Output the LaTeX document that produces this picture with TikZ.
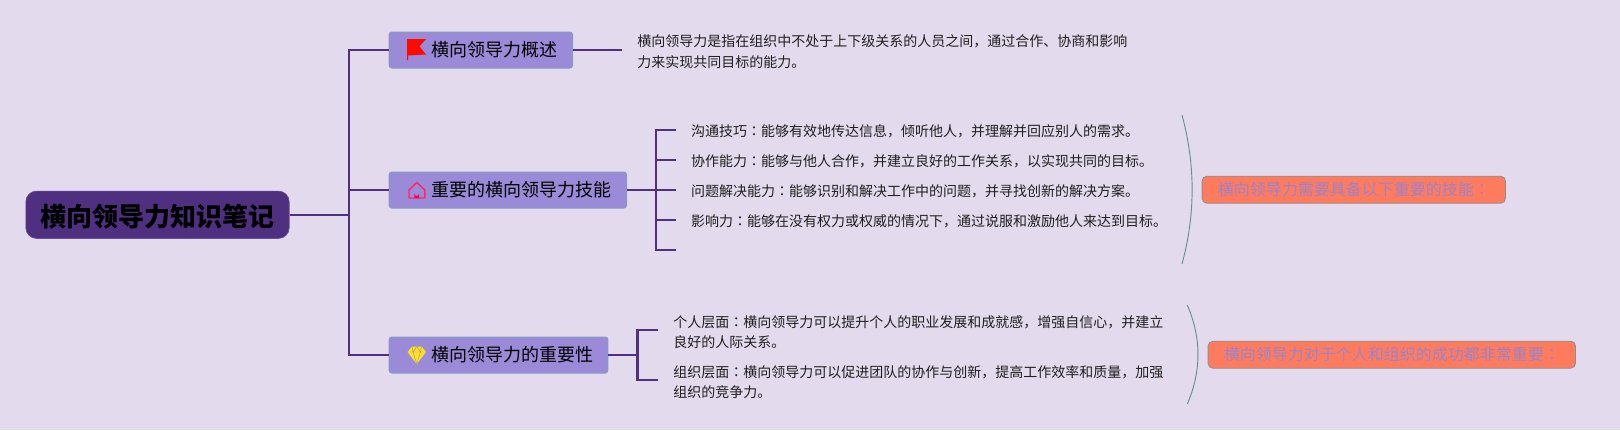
\documentclass[tikz,border=0pt]{standalone}
\usepackage{fontspec}
\setmainfont{Noto Sans CJK SC}
\newfontfamily\jpcolon{Noto Sans CJK JP}
\newcommand{\cln}{{\jpcolon ：}}
\definecolor{bgc}{HTML}{E3DAEE}
\definecolor{rootc}{HTML}{4F2F80}
\definecolor{linec}{HTML}{4F3082}
\definecolor{childc}{HTML}{9B8AD8}
\definecolor{childb}{HTML}{879CC0}
\definecolor{sumc}{HTML}{FF7B5E}
\definecolor{sumb}{HTML}{8E8F86}
\definecolor{sumt}{HTML}{9A82CC}
\definecolor{arcc}{HTML}{5F9296}
\tikzset{
  x=0.75pt,y=-0.75pt,
  conn/.style={draw=linec,line width=1.6pt},
  rootbox/.style={anchor=west,fill=rootc,draw=rootc!85!white,line width=0.5pt,rounded corners=8pt,inner sep=0pt,minimum width=197.5pt,minimum height=35.5pt,font=\fontsize{19.5pt}{24pt}\bfseries},
  childbox/.style={anchor=west,fill=childc,draw=childb,line width=0.75pt,rounded corners=2pt,inner sep=0pt,minimum height=27pt,align=left,font=\fontsize{13.5pt}{16pt}\selectfont},
  sumbox/.style={anchor=west,fill=sumc,draw=sumb,line width=0.6pt,rounded corners=3.5pt,inner sep=0pt,minimum height=20.2pt,text=sumt,font=\fontsize{12pt}{15pt}\selectfont},
  note/.style={anchor=west,inner sep=0pt,align=left,text=black!88,font=\fontsize{10.5pt}{15.3pt}\selectfont},
  brace/.style={draw=arcc,line width=0.7pt}
}
\begin{document}
\begin{tikzpicture}
\useasboundingbox[fill=bgc] (0,0) rectangle (1620,430);

\node[rootbox] (root) at (25.5,214.75) {\raisebox{-9pt}[0pt][0pt]{横向领导力知识笔记}};

\node[childbox,text width=137.5pt] (c1) at (388.7,50) {\hspace*{32pt}\raisebox{-5.2pt}[0pt][0pt]{横向领导力概述}};
\node[childbox,text width=178pt] (c2) at (388.7,190) {\hspace*{32pt}\raisebox{-5.2pt}[0pt][0pt]{重要的横向领导力技能}};
\node[childbox,text width=164pt] (c3) at (388.7,355) {\hspace*{32pt}\raisebox{-5.2pt}[0pt][0pt]{横向领导力的重要性}};

\coordinate (t0) at (349,214.75);
\draw[conn] (root.east) -- (t0);
\draw[conn] (c1.west) -- (c1.west -| t0) -- (c3.west -| t0) -- (c3.west);
\draw[conn] (c2.west) -- (c2.west -| t0);

% flag
\fill[red!92!orange] (407,39) -- (426,39) -- (419.5,46.5) -- (426,54.5) -- (408,55.5) -- (408,60) -- (407,60) -- cycle;
% house
\draw[draw=red!70!magenta!85!white,line width=1.1pt,line join=round] (409,198) -- (409,190) -- (416.8,182.5) -- (424.8,190) -- (424.8,198) -- cycle;
\fill[red!70!magenta] (414.4,198) -- (414.4,193.5) arc (180:0:2.4) -- (419.2,198) -- cycle;
% diamond
\fill[yellow!75!orange!80!white] (412,346.5) -- (421.5,346.5) -- (426,352) -- (416.8,364) -- (407.5,352) -- cycle;
\draw[draw=olive!70!white,line width=0.35pt] (407.5,352) -- (426,352) (412,346.5) -- (413,352) -- (416.8,364) -- (420.5,352) -- (421.5,346.5) (416.8,346.5) -- (413,352) (416.8,346.5) -- (420.5,352);

% overview
\coordinate (e1) at (621.7,50);
\draw[conn] (c1.east) -- (e1);
\node[note] (n1) at (637,51.7) {横向领导力是指在组织中不处于上下级关系的人员之间，通过合作、协商和影响\\力来实现共同目标的能力。};

% skills
\coordinate (bus2) at (656,190);
\coordinate (s1) at (675.8,130);
\coordinate (s2) at (675.8,160);
\coordinate (s3) at (675.8,190);
\coordinate (s4) at (675.8,220);
\coordinate (s5) at (675.8,250);
\draw[conn] (c2.east) -- (s3);
\draw[conn] (s1) -- (s1 -| bus2) -- (s5 -| bus2) -- (s5);
\draw[conn] (s2) -- (s2 -| bus2);
\draw[conn] (s4) -- (s4 -| bus2);
\node[note] (k1) at (690.8,131.5) {沟通技巧\cln 能够有效地传达信息，倾听他人，并理解并回应别人的需求。};
\node[note] (k2) at (690.8,161.5) {协作能力\cln 能够与他人合作，并建立良好的工作关系，以实现共同的目标。};
\node[note] (k3) at (690.8,191.5) {问题解决能力\cln 能够识别和解决工作中的问题，并寻找创新的解决方案。};
\node[note] (k4) at (690.8,221.5) {影响力\cln 能够在没有权力或权威的情况下，通过说服和激励他人来达到目标。};

% importance
\coordinate (bus3) at (637.5,355);
\coordinate (i1) at (658,330);
\coordinate (i2) at (658,380);
\draw[conn] (c3.east) -- (bus3);
\draw[conn] (i1) -- (i1 -| bus3) -- (i2 -| bus3) -- (i2);
\node[note] (m1) at (673,332) {个人层面\cln 横向领导力可以提升个人的职业发展和成就感，增强自信心，并建立\\良好的人际关系。};
\node[note] (m2) at (673,382) {组织层面\cln 横向领导力可以促进团队的协作与创新，提高工作效率和质量，加强\\组织的竞争力。};

% summaries
\coordinate (a1) at (1182,115);
\coordinate (a2) at (1182,264);
\draw[brace] (a1) .. controls (1195.5,165) and (1195.5,214) .. (a2);
\node[sumbox,minimum width=227.5pt] (r1) at (1201.7,189.7) {\raisebox{-4.6pt}[0pt][0pt]{横向领导力需要具备以下重要的技能\cln}};
\coordinate (b1) at (1187.3,305);
\coordinate (b2) at (1187.3,404);
\draw[brace] (b1) .. controls (1201.5,338) and (1201.5,371) .. (b2);
\node[sumbox,minimum width=275.5pt] (r2) at (1207.7,354.7) {\raisebox{-4.6pt}[0pt][0pt]{横向领导力对于个人和组织的成功都非常重要\cln}};
\end{tikzpicture}
\end{document}
